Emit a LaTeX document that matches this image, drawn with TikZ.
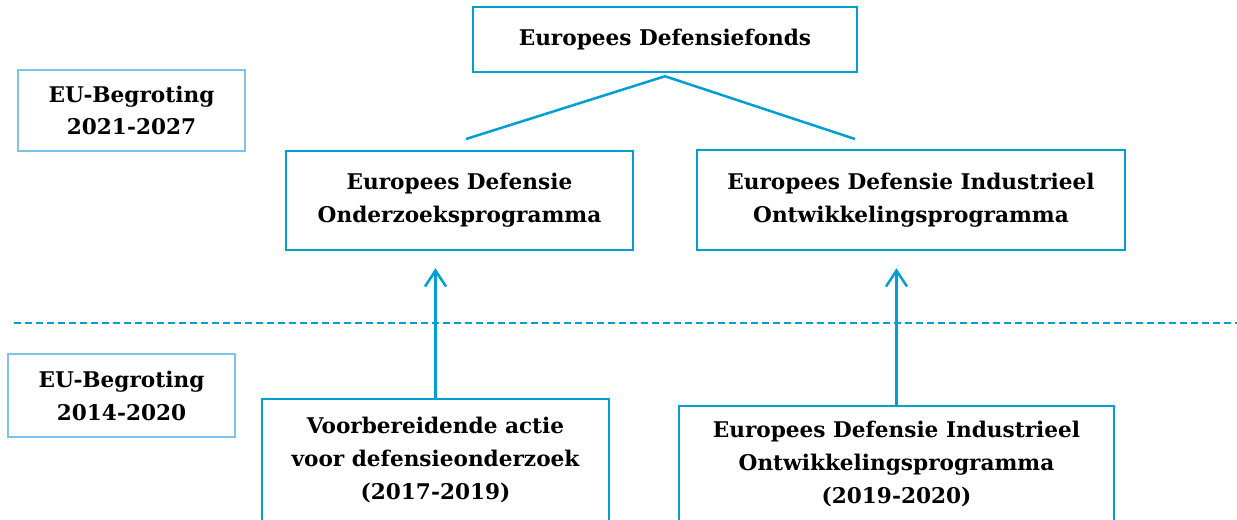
\documentclass[tikz,border=0pt]{standalone}
\usepackage{fontspec}
\setmainfont{DejaVu Serif}
\usetikzlibrary{arrows.meta}
\definecolor{azz}{RGB}{0,158,210}
\definecolor{azzchiaro}{RGB}{125,194,232}
\tikzstyle{prog}=[rectangle,draw=azz,line width=.05cm,align=center,inner sep=2pt,font=\fontsize{12.3}{18.7}\selectfont\bfseries]
\tikzstyle{bil}=[prog,draw=azzchiaro]
\tikzstyle{linea}=[draw=azz,line width=.05cm]
\tikzstyle{freccia}=[linea,-{Straight Barb[length=.32cm,width=.42cm]}]

\begin{document}
\begin{tikzpicture}
\useasboundingbox (0,0) rectangle (24.74,-10.38);
\clip (0,0) rectangle (24.74,-10.38);
\node[prog,minimum width=7.68cm,minimum height=1.3cm] (edf) at (13.30,-0.79) {Europees Defensiefonds};
\node[bil,minimum width=4.54cm,minimum height=1.62cm] (bil1) at (2.63,-2.21) {EU-Begroting\\2021-2027};
\node[bil,minimum width=4.54cm,minimum height=1.66cm] (bil2) at (2.43,-7.91) {EU-Begroting\\2014-2020};
\node[prog,minimum width=6.94cm,minimum height=1.98cm] (edo) at (9.19,-4.01) {Europees Defensie\\Onderzoeksprogramma};
\node[prog,minimum width=8.56cm,minimum height=2cm] (edio) at (18.22,-4.00) {Europees Defensie Industrieel\\Ontwikkelingsprogramma};
\node[prog,minimum width=6.94cm,minimum height=2.44cm] (va) at (8.71,-9.20) {Voorbereidende actie\\voor defensieonderzoek\\(2017-2019)};
\node[prog,minimum width=8.70cm,minimum height=2.32cm] (edio2) at (17.93,-9.28) {Europees Defensie Industrieel\\Ontwikkelingsprogramma\\(2019-2020)};
\coordinate (sx) at (9.32,-2.78);
\coordinate (dx) at (17.10,-2.78);
\coordinate (ta) at (0.28,-6.46);
\coordinate (tb) at (24.74,-6.46);
\draw[linea] (sx) -- ([yshift=-.06cm]edf.south) -- (dx);
\draw[linea,dash pattern=on .14cm off .08cm] (ta) -- (tb);
\draw[freccia,shorten >=.34cm] (va.north) -- (va.north |- edo.south);
\draw[freccia,shorten >=.34cm] (edio2.north) -- (edio2.north |- edio.south);
\end{tikzpicture}
\end{document}
